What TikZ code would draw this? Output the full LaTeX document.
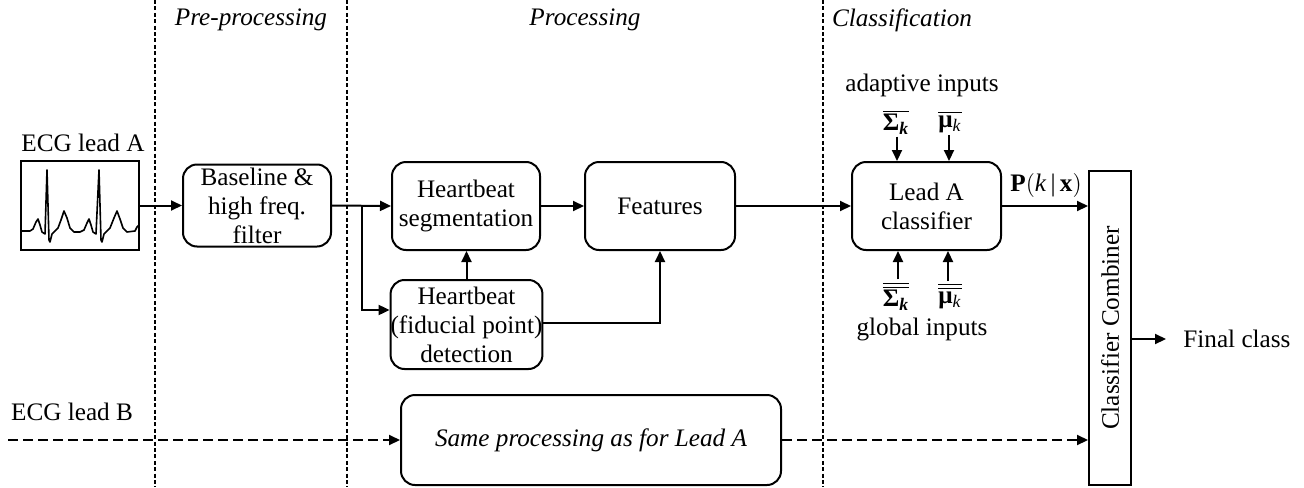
\documentclass[tikz,border=0pt]{standalone}
\usepackage{fontspec}
\setmainfont{Liberation Serif}
\usetikzlibrary{arrows.meta,calc}
\tikzset{
  every node/.style={font=\fontsize{12.6}{14.5}\selectfont},
  box/.style={draw, line width=1pt, rounded corners=7pt, align=center, inner sep=0pt},
  arr/.style={-{Triangle[length=5.5pt,width=5pt]}, line width=1pt},
  vdash/.style={line width=1.1pt, dash pattern=on 2pt off 1.2pt},
  hdash/.style={arr, dash pattern=on 5pt off 2.5pt},
  hdr/.style={font=\fontsize{12.6}{14.5}\selectfont\itshape},
}
\begin{document}
\begin{tikzpicture}[x=0.5pt,y=-0.5pt]
\useasboundingbox (0,0) rectangle (1304,487);
% phase separators
\draw[vdash] (155,0) -- (155,487);
\draw[vdash] (347,0) -- (347,487);
\draw[vdash] (823,0) -- (823,487);
% headers
\node[hdr] (hpre) at (251,20) {Pre-processing};
\node[hdr] (hpro) at (585,20) {Processing};
\node[hdr] (hcls) at (902,20) {Classification};
% ECG lead A
\node (leadA) at (83,143) {ECG lead A};
\node[draw, line width=1pt, minimum width=59pt, minimum height=44.5pt, inner sep=0pt] (ecg) at (80,205.5) {};
\draw[line width=0.8pt, line join=round] (21,231) -- (30,231) -- (33,229) -- (36,222) -- (38,219) -- (40,225) -- (42,232) -- (45,234) -- (47,170) -- (49,240) -- (50,242) -- (52,234) -- (55,231) -- (58,228) -- (61,220) -- (64,211) -- (67,218) -- (70,228) -- (74,232) -- (80,232) -- (84,230) -- (87,223) -- (89,219) -- (91,225) -- (93,232) -- (96,234) -- (99,170) -- (101,240) -- (102,242) -- (104,234) -- (107,231) -- (110,228) -- (114,218) -- (117,211) -- (120,219) -- (123,228) -- (127,232) -- (135,231) -- (137,227) -- (139,225);
% boxes
\node[box, minimum width=74pt, minimum height=41pt] (base) at (257,205.5) {Baseline \&\\high freq.\\filter};
\node[box, minimum width=74pt, minimum height=44pt] (seg) at (466,206) {Heartbeat\\segmentation};
\node[box, minimum width=74.5pt, minimum height=44.5pt] (det) at (466.5,324.5) {Heartbeat\\(fiducial point)\\detection};
\node[box, minimum width=75pt, minimum height=44pt] (feat) at (660,206) {Features};
\node[box, minimum width=74.5pt, minimum height=44pt] (cls) at (926.5,206) {Lead A\\classifier};
\node[box, minimum width=190pt, minimum height=45pt] (same) at (591,440) {\itshape Same processing as for Lead A};
\node[draw, line width=1pt, minimum width=21pt, minimum height=157pt, inner sep=0pt] (comb) at (1110,328) {};
\node[rotate=90] (combtxt) at (comb.center) {Classifier Combiner};
% connectors lead A
\draw[arr] (ecg.east) -- (base.west);
\draw[arr] (base.east) -- (seg.west);
\coordinate (br) at (362,206);
\coordinate (detin) at ([yshift=7.25pt]det.west);
\draw[arr] (br) |- (detin);
\draw[arr] (det.north) -- (det.north |- seg.south);
\draw[arr] ([yshift=0.75pt]det.east) -| (feat.south);
\draw[arr] (seg.east) -- (feat.west);
\draw[arr] (feat.east) -- (cls.west);
% classifier inputs
\node (adlab) at (922,85) {adaptive inputs};
\node[inner sep=1pt] (sa) at (896,122) {$\overline{\mbox{\textbf{Σ}\textsubscript{\textbf{\textit{k}}}}}$};
\node[inner sep=1pt] (ma) at (950,122) {$\overline{\mbox{\textbf{μ}\textsubscript{\textit{k}}}}$};
\draw[arr] (sa.south -| 897,0) -- (897,0 |- cls.north);
\draw[arr] (ma.south -| 949,0) -- (949,0 |- cls.north);
\node[inner sep=1pt] (sg) at (896,296) {$\overline{\overline{\mbox{\textbf{Σ}\textsubscript{\textbf{\textit{k}}}}}}$};
\node[inner sep=1pt] (mg) at (950,296) {$\overline{\overline{\mbox{\textbf{μ}\textsubscript{\textit{k}}}}}$};
\draw[arr] (sg.north -| 898,0) -- (898,0 |- cls.south);
\draw[arr] (mg.north -| 948,0) -- (948,0 |- cls.south);
\node (glab) at (922,329) {global inputs};
% output
\node (pkx) at (1046,185) {\textbf{P}$\big($\textit{k}\,|\,\textbf{x}$\big)$};
\draw[arr] (cls.east) -- (cls.east -| comb.west);
\coordinate (fc) at (1166,339);
\node[anchor=west, inner sep=0pt] (final) at (1183,339) {Final class};
\draw[arr] (comb.east |- fc) -- (fc);
% lead B
\node (leadB) at (72,412) {ECG lead B};
\coordinate (bstart) at (8,440);
\draw[hdash] (bstart) -- (same.west);
\draw[hdash] (same.east) -- (same.east -| comb.west);
\end{tikzpicture}
\end{document}
